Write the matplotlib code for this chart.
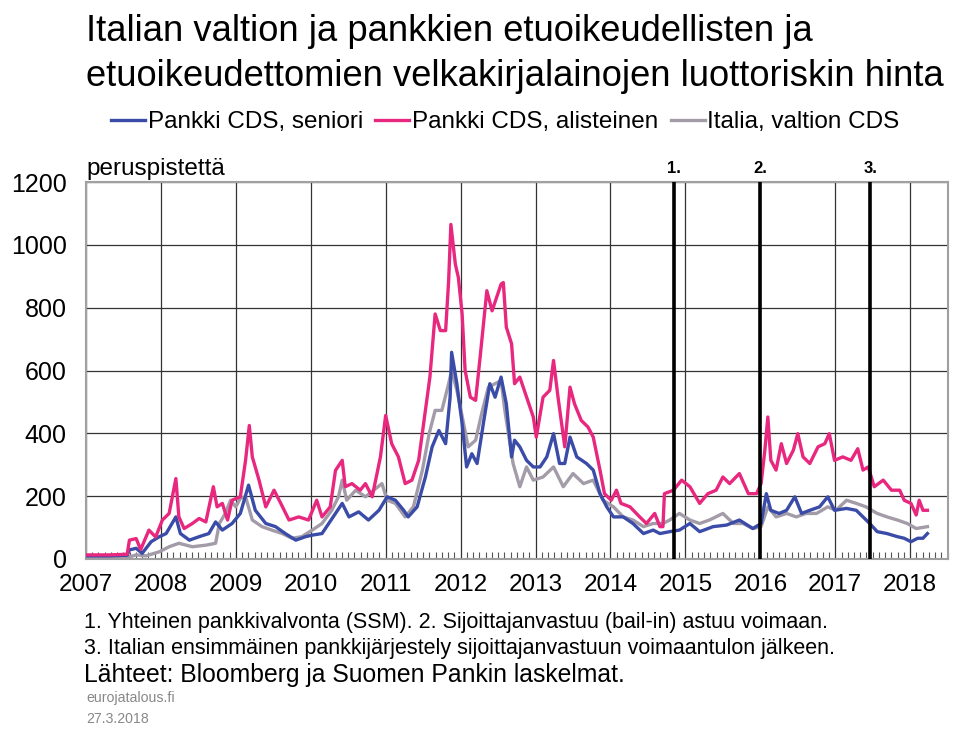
import matplotlib
matplotlib.use('Agg')
import matplotlib.pyplot as plt
from matplotlib.ticker import MultipleLocator, FixedLocator

plt.rcParams['font.family'] = ['Liberation Sans', 'DejaVu Sans']

# Pankki CDS, seniori (decimal year, basis points)
senior_t = [2007.0, 2007.3, 2007.55, 2007.58, 2007.67, 2007.75, 2007.87, 2007.98, 2008.07, 2008.2,
            2008.26, 2008.38, 2008.51, 2008.64, 2008.73, 2008.82, 2008.95, 2009.06, 2009.17, 2009.26,
            2009.4, 2009.53, 2009.66, 2009.8, 2009.93, 2010.02, 2010.15, 2010.24, 2010.33, 2010.42,
            2010.51, 2010.64, 2010.77, 2010.91, 2011.02, 2011.13, 2011.24, 2011.3, 2011.42, 2011.53,
            2011.62, 2011.71, 2011.8, 2011.86, 2011.88, 2011.95, 2012.02, 2012.08, 2012.15, 2012.22,
            2012.31, 2012.39, 2012.46, 2012.54, 2012.61, 2012.68, 2012.72, 2012.79, 2012.88, 2012.97,
            2013.06, 2013.15, 2013.24, 2013.32, 2013.39, 2013.46, 2013.55, 2013.68, 2013.77, 2013.86,
            2013.95, 2014.04, 2014.17, 2014.3, 2014.44, 2014.57, 2014.66, 2014.79, 2014.92, 2015.06,
            2015.19, 2015.37, 2015.55, 2015.72, 2015.9, 2016.01, 2016.08, 2016.14, 2016.25, 2016.35,
            2016.46, 2016.55, 2016.66, 2016.79, 2016.9, 2016.99, 2017.15, 2017.28, 2017.37, 2017.46,
            2017.56, 2017.69, 2017.83, 2017.92, 2018.01, 2018.1, 2018.17, 2018.23]
senior_v = [10, 10, 12, 29, 34, 18, 55, 71, 81, 134,
            81, 60, 71, 81, 118, 92, 113, 145, 235, 155,
            113, 103, 81, 60, 71, 76, 81, 113, 145, 177,
            134, 150, 124, 155, 198, 187, 155, 134, 166, 261,
            357, 409, 367, 515, 658, 558, 431, 293, 335, 304,
            441, 558, 515, 579, 494, 325, 378, 357, 314, 293,
            293, 325, 399, 304, 304, 388, 325, 304, 283, 208,
            166, 134, 134, 113, 81, 92, 81, 87, 92, 113,
            87, 103, 108, 124, 97, 113, 208, 155, 145, 155,
            198, 145, 155, 166, 198, 155, 161, 155, 134, 113,
            87, 81, 71, 66, 55, 66, 66, 81]

# Pankki CDS, alisteinen
sub_t = [2007.0, 2007.3, 2007.55, 2007.58, 2007.67, 2007.73, 2007.84, 2007.93, 2008.02, 2008.11,
         2008.2, 2008.24, 2008.31, 2008.42, 2008.51, 2008.6, 2008.7, 2008.75, 2008.82, 2008.89,
         2008.95, 2009.06, 2009.13, 2009.18, 2009.22, 2009.31, 2009.4, 2009.51, 2009.6, 2009.71,
         2009.84, 2009.97, 2010.08, 2010.15, 2010.26, 2010.33, 2010.42, 2010.46, 2010.55, 2010.66,
         2010.73, 2010.82, 2010.93, 2011.0, 2011.08, 2011.17, 2011.26, 2011.35, 2011.44, 2011.53,
         2011.59, 2011.66, 2011.73, 2011.8, 2011.84, 2011.87, 2011.93, 2011.97, 2012.02, 2012.06,
         2012.13, 2012.2, 2012.26, 2012.35, 2012.42, 2012.54, 2012.57, 2012.61, 2012.68, 2012.72,
         2012.79, 2012.88, 2012.97, 2013.01, 2013.1, 2013.19, 2013.24, 2013.3, 2013.39, 2013.46,
         2013.52, 2013.61, 2013.7, 2013.77, 2013.86, 2013.92, 2014.01, 2014.08, 2014.14, 2014.26,
         2014.39, 2014.48, 2014.59, 2014.66, 2014.7, 2014.72, 2014.84, 2014.95, 2015.06, 2015.19,
         2015.3, 2015.41, 2015.5, 2015.59, 2015.72, 2015.84, 2015.95, 2016.01, 2016.06, 2016.1,
         2016.14, 2016.21, 2016.28, 2016.35, 2016.44, 2016.5, 2016.57, 2016.66, 2016.77, 2016.86,
         2016.92, 2016.99, 2017.1, 2017.21, 2017.3, 2017.37, 2017.44, 2017.52, 2017.64, 2017.75,
         2017.86, 2017.92, 2018.01, 2018.08, 2018.12, 2018.17, 2018.23]
sub_v = [13, 13, 15, 60, 65, 30, 92, 70, 124, 145,
         256, 134, 97, 113, 129, 118, 230, 166, 177, 124,
         187, 198, 314, 425, 325, 251, 166, 219, 177, 124,
         134, 124, 187, 134, 166, 282, 314, 230, 240, 219,
         240, 198, 325, 457, 367, 325, 240, 251, 314, 473,
         579, 780, 727, 727, 885, 1065, 938, 896, 780, 600,
         515, 505, 642, 854, 790, 875, 880, 738, 685, 558,
         579, 515, 452, 388, 515, 537, 632, 515, 357, 547,
         494, 441, 420, 388, 283, 208, 187, 219, 177, 166,
         134, 113, 145, 103, 103, 208, 219, 251, 230, 177,
         208, 219, 261, 240, 272, 208, 208, 240, 346, 452,
         314, 283, 367, 304, 346, 399, 325, 304, 357, 367,
         399, 314, 325, 314, 351, 283, 293, 230, 251, 219,
         219, 187, 177, 140, 187, 155, 155]

# Italia, valtion CDS
gov_t = [2007.0, 2007.3, 2007.6, 2007.67, 2007.8, 2007.98, 2008.11, 2008.24, 2008.42, 2008.6,
         2008.73, 2008.78, 2008.86, 2008.93, 2009.0, 2009.06, 2009.13, 2009.22, 2009.35, 2009.48,
         2009.62, 2009.75, 2009.88, 2010.02, 2010.15, 2010.28, 2010.37, 2010.42, 2010.48, 2010.6,
         2010.73, 2010.84, 2010.95, 2011.02, 2011.13, 2011.26, 2011.37, 2011.49, 2011.58, 2011.66,
         2011.75, 2011.84, 2011.88, 2011.95, 2012.04, 2012.1, 2012.2, 2012.28, 2012.37, 2012.46,
         2012.54, 2012.59, 2012.7, 2012.79, 2012.88, 2012.97, 2013.1, 2013.24, 2013.37, 2013.5,
         2013.64, 2013.77, 2013.9, 2014.04, 2014.17, 2014.3, 2014.44, 2014.57, 2014.7, 2014.79,
         2014.92, 2015.06, 2015.19, 2015.32, 2015.5, 2015.64, 2015.77, 2015.9, 2016.01, 2016.1,
         2016.21, 2016.35, 2016.48, 2016.61, 2016.75, 2016.9, 2017.01, 2017.15, 2017.28, 2017.41,
         2017.56, 2017.69, 2017.83, 2017.96, 2018.08, 2018.23]
gov_v = [7, 7, 8, 13, 10, 23, 39, 50, 39, 44,
         50, 113, 145, 187, 166, 193, 198, 124, 103, 92,
         81, 66, 71, 92, 113, 155, 198, 251, 187, 219,
         198, 219, 240, 187, 177, 134, 166, 283, 399, 473,
         473, 558, 600, 537, 431, 357, 378, 462, 547, 558,
         568, 473, 304, 230, 293, 251, 261, 293, 230, 272,
         240, 251, 187, 166, 134, 124, 103, 113, 113, 124,
         145, 124, 113, 124, 145, 113, 113, 97, 103, 166,
         134, 145, 134, 145, 145, 166, 155, 187, 177, 166,
         145, 134, 124, 113, 97, 103]

series_labels = ['Pankki CDS, seniori', 'Pankki CDS, alisteinen', 'Italia, valtion CDS']
series_colors = ['#3a4ca8', '#e8287f', '#a39ca8']

years = list(range(2007, 2019))
event_t = [2014.85, 2016.0, 2017.47]
event_labels = ['1.', '2.', '3.']

fig = plt.figure(figsize=(9.68, 7.31), dpi=100)
ax = fig.add_axes([0.0888, 0.2353, 0.8902, 0.5157])

# gray first so the coloured lines sit above it
l_gov, = ax.plot(gov_t, gov_v, color=series_colors[2], lw=2.4, zorder=3)
l_sen, = ax.plot(senior_t, senior_v, color=series_colors[0], lw=2.4, zorder=4)
l_sub, = ax.plot(sub_t, sub_v, color=series_colors[1], lw=2.4, zorder=5)

for t, lab in zip(event_t, event_labels):
    ax.axvline(t, color='black', lw=2.6, zorder=6)
    ax.text(t, 1218, lab, ha='center', va='bottom', fontsize=12, fontweight='bold')

ax.set_xlim(2007, 2018.5)
ax.set_ylim(0, 1200)
ax.yaxis.set_major_locator(MultipleLocator(200))
ax.xaxis.set_major_locator(FixedLocator(years))
ax.xaxis.set_minor_locator(MultipleLocator(1 / 12))
ax.grid(True, which='major', color='#333333', lw=0.9, zorder=1)
ax.tick_params(axis='x', which='major', length=0, labelsize=17.5, pad=11)
ax.tick_params(axis='x', which='minor', direction='in', length=5, color='#555555', width=0.8)
ax.tick_params(axis='y', length=0, labelsize=18, pad=14)
for s in ax.spines.values():
    s.set_color('#a0a0a0')
    s.set_linewidth(1.5)

ax.text(0.0, 1.018, 'peruspistettä', transform=ax.transAxes, fontsize=17.5, va='baseline')

fig.legend([l_sen, l_sub, l_gov], series_labels, loc='center',
           bbox_to_anchor=(0.522, 0.833), ncol=3, frameon=False, fontsize=17.5,
           handlelength=1.4, handletextpad=0.12, columnspacing=0.5, borderpad=0)

fig.text(0.089, 0.9439, 'Italian valtion ja pankkien etuoikeudellisten ja',
         fontsize=26.2, va='baseline')
fig.text(0.089, 0.8824, 'etuoikeudettomien velkakirjalainojen luottoriskin hinta',
         fontsize=26.2, va='baseline')

fig.text(0.087, 0.149, '1. Yhteinen pankkivalvonta (SSM). 2. Sijoittajanvastuu (bail-in) astuu voimaan.',
         fontsize=15.5, va='center')
fig.text(0.087, 0.1135, '3. Italian ensimmäinen pankkijärjestely sijoittajanvastuun voimaantulon jälkeen.',
         fontsize=15.5, va='center')
fig.text(0.087, 0.0766, 'Lähteet: Bloomberg ja Suomen Pankin laskelmat.', fontsize=17.8, va='center')
fig.text(0.089, 0.045, 'eurojatalous.fi', fontsize=10.2, va='center', color='#888888')
fig.text(0.089, 0.0164, '27.3.2018', fontsize=10.2, va='center', color='#888888')

fig.savefig('out.png', dpi=100)
